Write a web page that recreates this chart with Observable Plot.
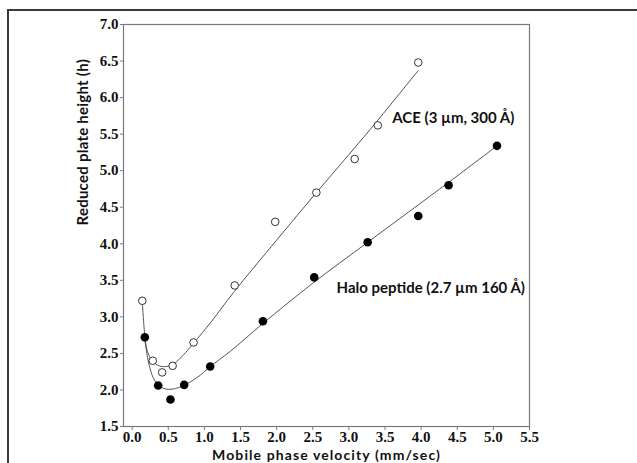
<!DOCTYPE html>
<html>
<head>
<meta charset="utf-8">
<script src="https://cdn.jsdelivr.net/npm/d3@7"></script>
<script src="https://cdn.jsdelivr.net/npm/@observablehq/plot@0.6"></script>
<style>
  html, body { margin: 0; padding: 0; background: #fff; }
  #wrap { position: relative; width: 637px; height: 463px; overflow: hidden; }
  #outer { position: absolute; left: 7px; top: 9px; right: -10px; bottom: -10px;
           border-top: 2px solid #3a3a3a; border-left: 2px solid #3a3a3a; pointer-events: none; }
  #wrap svg { position: absolute; left: 0; top: 0; }
</style>
</head>
<body>
<div id="wrap"><div id="outer"></div></div>
<script>
// Tick values
const xTicks = [0, 0.5, 1.0, 1.5, 2.0, 2.5, 3.0, 3.5, 4.0, 4.5, 5.0, 5.5];
const yTicks = [1.5, 2.0, 2.5, 3.0, 3.5, 4.0, 4.5, 5.0, 5.5, 6.0, 6.5, 7.0];

// ACE (3 µm, 300 Å) — open circles
const aceV = [0.14, 0.285, 0.415, 0.56, 0.85, 1.42, 1.98, 2.55, 3.08, 3.40, 3.96];
const aceH = [3.22, 2.40, 2.24, 2.33, 2.65, 3.43, 4.30, 4.70, 5.16, 5.62, 6.48];

// Halo peptide (2.7 µm 160 Å) — filled circles
const haloV = [0.175, 0.36, 0.53, 0.72, 1.08, 1.81, 2.52, 3.26, 3.96, 4.38, 5.05];
const haloH = [2.72, 2.06, 1.87, 2.07, 2.32, 2.94, 3.54, 4.02, 4.38, 4.80, 5.34];

// Fitted curves
const aceFitV = [0.14, 0.17, 0.21, 0.28, 0.35, 0.42, 0.55, 0.70, 0.85, 1.10, 1.40, 2.00, 2.55, 3.00, 3.40, 3.96];
const aceFitH = [3.22, 2.80, 2.53, 2.40, 2.34, 2.32, 2.34, 2.47, 2.64, 2.94, 3.33, 4.05, 4.70, 5.22, 5.69, 6.37];
const haloFitV = [0.17, 0.20, 0.23, 0.30, 0.38, 0.48, 0.60, 0.71, 0.90, 1.08, 1.36, 1.81, 2.50, 3.26, 4.38, 5.05];
const haloFitH = [2.72, 2.52, 2.36, 2.15, 2.05, 2.01, 2.02, 2.06, 2.17, 2.32, 2.53, 2.91, 3.46, 4.02, 4.84, 5.34];

// Annotations
const labelText = ["ACE (3 µm, 300 Å)", "Halo peptide (2.7 µm 160 Å)"];
const labelX = [3.60, 2.83];
const labelY = [5.72, 3.395];

const xTitle = "Mobile phase velocity (mm/sec)";
const yTitle = "Reduced plate height (h)";

const ace = aceV.map((v, i) => ({v, h: aceH[i]}));
const halo = haloV.map((v, i) => ({v, h: haloH[i]}));
const aceFit = aceFitV.map((v, i) => ({v, h: aceFitH[i]}));
const haloFit = haloFitV.map((v, i) => ({v, h: haloFitH[i]}));
const labels = labelText.map((t, i) => ({t, x: labelX[i], y: labelY[i]}));

const serif = "'Liberation Serif', 'Times New Roman', serif";
const sans = "Lato, 'Open Sans', sans-serif";
const fmt = d3.format(".1f");

const chart = Plot.plot({
  width: 637,
  height: 463,
  marginLeft: 123,
  marginRight: 108,
  marginTop: 24,
  marginBottom: 37,
  style: {background: "transparent", overflow: "visible"},
  x: {domain: [-0.12, 5.5]},
  y: {domain: [1.5, 7.0]},
  marks: [
    Plot.frame({stroke: "#7a7a7a", strokeWidth: 1.2}),
    Plot.axisX({ticks: xTicks, tickFormat: fmt, tickSize: 4, tickPadding: 1, stroke: "#7a7a7a",
      fill: "#111", fontFamily: serif, fontSize: 15, fontWeight: "bold", label: null}),
    Plot.axisY({ticks: yTicks, tickFormat: fmt, tickSize: 3, tickPadding: 2, stroke: "#7a7a7a",
      fill: "#111", fontFamily: serif, fontSize: 15, fontWeight: "bold", label: null}),
    Plot.line(aceFit, {x: "v", y: "h", curve: "catmull-rom", stroke: "#555", strokeWidth: 1}),
    Plot.line(haloFit, {x: "v", y: "h", curve: "catmull-rom", stroke: "#555", strokeWidth: 1}),
    Plot.dot(ace, {x: "v", y: "h", r: 3.8, fill: "#fff", stroke: "#333", strokeWidth: 1}),
    Plot.dot(halo, {x: "v", y: "h", r: 4.3, fill: "#000", stroke: "none"}),
    Plot.text(labels, {x: "x", y: "y", text: "t", textAnchor: "start", fontFamily: sans,
      fontSize: 15, fontWeight: "bold", fill: "#111"}),
    Plot.text([xTitle], {frameAnchor: "bottom", lineAnchor: "middle", dy: 29.5, text: d => d,
      fontFamily: sans, fontSize: 14, fontWeight: "bold", fill: "#111"}),
    Plot.text([yTitle], {frameAnchor: "left", lineAnchor: "middle", rotate: -90, dx: -40, text: d => d,
      fontFamily: sans, fontSize: 15, fontWeight: "bold", fill: "#111"})
  ]
});
const textGroups = chart.querySelectorAll('g[aria-label="text"]');
if (textGroups.length >= 3) {
  textGroups[1].style.letterSpacing = "1.1px";
  textGroups[2].style.letterSpacing = "0.25px";
}
document.getElementById("wrap").appendChild(chart);
</script>
</body>
</html>
